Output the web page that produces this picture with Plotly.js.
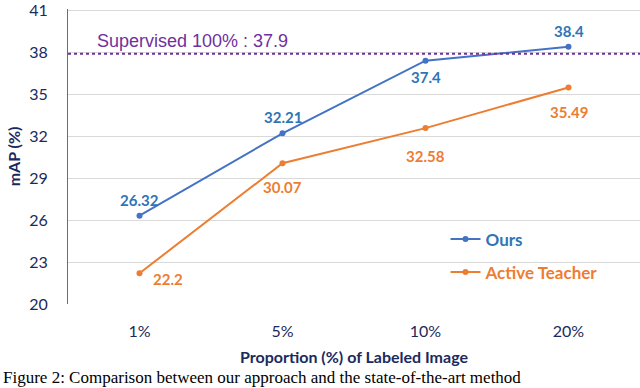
<!DOCTYPE html>
<html>
<head>
<meta charset="utf-8">
<script src="https://cdn.plot.ly/plotly-3.0.1.min.js"></script>
<style>html,body{margin:0;padding:0;background:#fff;}#chart{width:640px;height:388px;}</style>
</head>
<body>
<div id="chart"></div>
<script>
const categories = ["1%", "5%", "10%", "20%"];
const oursValues = [26.32, 32.21, 37.4, 38.4];
const activeTeacherValues = [22.2, 30.07, 32.58, 35.49];
const supervisedValue = 37.9;
const supervisedLabel = "Supervised 100% : 37.9";
const yTicks = [20, 23, 26, 29, 32, 35, 38, 41];

const blue = "#4472C4", blueText = "#2E75B6", orange = "#ED7D31", purple = "#7030A0", navy = "#1B2A5C";
const font = "Lato, 'Open Sans', sans-serif";

// label placements (offsets in px) for each point
const oursOffsets = [[0, 16], [0, 16], [0, -16], [0, 16]];
const atOffsets = [[28, -6], [0, -24], [0, -28], [0, -25]];

const annotations = [];
categories.forEach((c, i) => {
  annotations.push({x: c, y: oursValues[i], text: "<b>" + oursValues[i] + "</b>", showarrow: false,
    xshift: oursOffsets[i][0], yshift: oursOffsets[i][1], font: {family: font, size: 15, color: blueText}});
  annotations.push({x: c, y: activeTeacherValues[i], text: "<b>" + activeTeacherValues[i] + "</b>", showarrow: false,
    xshift: atOffsets[i][0], yshift: atOffsets[i][1], font: {family: font, size: 15, color: orange}});
});
annotations.push({xref: "paper", x: 0.218, xanchor: "center", y: supervisedValue, text: supervisedLabel, showarrow: false, yshift: 13,
  font: {family: "Liberation Sans, Arial, sans-serif", size: 18, color: purple}});
annotations.push({xref: "paper", yref: "paper", x: -0.118, xanchor: "left", y: -0.21, yanchor: "top",
  text: "Figure 2: Comparison between our approach and the state-of-the-art method", showarrow: false,
  font: {family: "Liberation Serif, 'DejaVu Serif', serif", size: 17, color: "#000"}});

const traces = [
  {x: categories, y: oursValues, name: "<b>Ours</b>", type: "scatter", mode: "lines+markers",
   line: {color: blue, width: 2}, marker: {color: blue, size: 6}, legendgroup: "a"},
  {x: categories, y: activeTeacherValues, name: "<b>Active Teacher</b>", type: "scatter", mode: "lines+markers",
   line: {color: orange, width: 2}, marker: {color: orange, size: 6}, legendgroup: "b"}
];

const layout = {
  width: 640, height: 388,
  margin: {l: 68, r: 0, t: 9, b: 84},
  paper_bgcolor: "#fff", plot_bgcolor: "#fff",
  showlegend: true,
  legend: {x: 0.66, y: 0.28, xanchor: "left", yanchor: "top", bgcolor: "rgba(0,0,0,0)",
    traceorder: "grouped", tracegroupgap: 8,
    font: {family: font, size: 17, color: navy}},
  xaxis: {type: "category", range: [-0.5, 3.5], showgrid: false, zeroline: false, showline: false,
    ticks: "", tickfont: {family: font, size: 16, color: navy}, ticklabelstandoff: 16,
    title: {text: "<b>Proportion (%) of Labeled Image</b>", font: {family: font, size: 16, color: navy}, standoff: 12}},
  yaxis: {range: [20, 41.1], tickmode: "array", tickvals: yTicks, ticktext: yTicks.map(String),
    showgrid: true, gridcolor: "#D9D9D9", gridwidth: 1, ticklabeloverflow: "allow",
    zeroline: false, showline: true, linecolor: blue, linewidth: 1, ticks: "",
    tickfont: {family: font, size: 16, color: navy}, ticklabelstandoff: 16,
    title: {text: "<b>mAP (%)</b>", font: {family: font, size: 16, color: navy}, standoff: 4}},
  shapes: [{type: "line", xref: "paper", x0: 0, x1: 1, y0: supervisedValue, y1: supervisedValue,
    line: {color: purple, width: 2, dash: "dot"}}],
  annotations: annotations
};

Plotly.newPlot("chart", traces, layout, {displayModeBar: false, staticPlot: true}).then(() => {
  const texts = document.querySelectorAll(".legendtext");
  const cols = [blueText, orange];
  texts.forEach((t, i) => { t.style.fill = cols[i]; });
});
</script>
</body>
</html>
